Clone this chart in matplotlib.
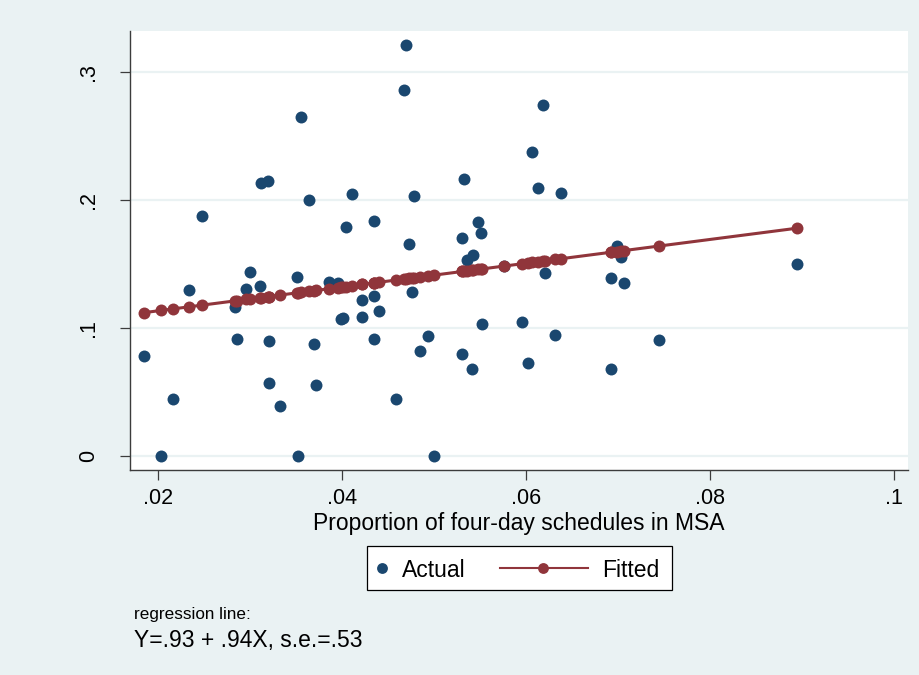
import matplotlib
matplotlib.use("Agg")
import matplotlib.pyplot as plt
from matplotlib.lines import Line2D
from matplotlib.patches import Rectangle
import numpy as np

# ---------------- data ----------------
x_actual = [0.01844, 0.02029, 0.02157, 0.02334, 0.02475, 0.02838, 0.02853, 0.02951,
            0.02994, 0.03110, 0.03117, 0.03190, 0.03201, 0.03201, 0.03324, 0.03506,
            0.03523, 0.03552, 0.03640, 0.03694, 0.03712, 0.03862, 0.03958, 0.03984,
            0.04013, 0.04039, 0.04104, 0.04219, 0.04219, 0.04343, 0.04350, 0.04350,
            0.04404, 0.04586, 0.04670, 0.04691, 0.04724, 0.04763, 0.04779, 0.04844,
            0.04931, 0.05003, 0.05307, 0.05307, 0.05326, 0.05355, 0.05427, 0.05416,
            0.05475, 0.05514, 0.05525, 0.05761, 0.05957, 0.06022, 0.06069, 0.06131,
            0.06185, 0.06204, 0.06319, 0.06384, 0.06925, 0.06925, 0.06987, 0.07034,
            0.07063, 0.07447, 0.08945]
y_actual = [0.0781, 0.0000, 0.0443, 0.1294, 0.1871, 0.1166, 0.0911, 0.1301,
            0.1434, 0.1329, 0.2129, 0.2147, 0.0900, 0.0570, 0.0393, 0.1400,
            0.0000, 0.2649, 0.1998, 0.0877, 0.0557, 0.1361, 0.1353, 0.1067,
            0.1075, 0.1785, 0.2048, 0.1218, 0.1083, 0.1832, 0.1251, 0.0913,
            0.1132, 0.0443, 0.2857, 0.3206, 0.1653, 0.1278, 0.2030, 0.0820,
            0.0937, 0.0000, 0.1699, 0.0799, 0.2160, 0.1530, 0.1567, 0.0682,
            0.1827, 0.1743, 0.1030, 0.1480, 0.1048, 0.0728, 0.2375, 0.2094,
            0.2742, 0.1431, 0.0947, 0.2055, 0.1392, 0.0677, 0.1639, 0.1556,
            0.1353, 0.0903, 0.1501]

# regression line (intercept, slope)
fit_intercept = 0.0948
fit_slope = 0.928

x_ticks = [0.02, 0.04, 0.06, 0.08, 0.10]
x_ticklabels = [".02", ".04", ".06", ".08", ".1"]
y_ticks = [0.0, 0.1, 0.2, 0.3]
y_ticklabels = ["0", ".1", ".2", ".3"]

x_title = "Proportion of four-day schedules in MSA"
legend_labels = ["Actual", "Fitted"]
note_line1 = "regression line:"
note_line2 = "Y=.93 + .94X, s.e.=.53"

# ---------------- style ----------------
BG = "#eaf2f3"
NAVY = "#1a476f"
MAROON = "#90353b"
AXC = "#3c3c3c"
FONT = "Liberation Sans"

W, H = 919, 675
fig = plt.figure(figsize=(W / 100, H / 100), dpi=100)
fig.patch.set_facecolor(BG)

L, R, T, B = 130, 908, 31, 470
ax = fig.add_axes([L / W, 1 - B / H, (R - L) / W, (B - T) / H])
ax.set_facecolor("white")

xa = np.array(x_actual)
ya = np.array(y_actual)
order = np.argsort(xa)
xf = xa[order]
yf = fit_intercept + fit_slope * xf

ax.grid(axis="y", color=BG, lw=1.6, zorder=0)
ax.set_axisbelow(True)

ms = 8.6
ax.plot(xa, ya, linestyle="none", marker="o", ms=ms, color=NAVY,
        markeredgewidth=0, zorder=3)
ax.plot(xf, yf, linestyle="-", lw=2.2, marker="o", ms=ms, color=MAROON,
        markeredgewidth=0, zorder=4)

ax.set_xlim(0.01692, 0.10156)
ax.set_ylim(-0.01093, 0.3318)

ax.set_xticks(x_ticks)
ax.set_xticklabels(x_ticklabels, fontfamily=FONT, fontsize=15.5)
ax.set_yticks(y_ticks)
ax.set_yticklabels(y_ticklabels, fontfamily=FONT, fontsize=15.5, rotation=90,
                   va="center")

ax.tick_params(axis="x", length=7.2, width=0.9, color=AXC, pad=6, labelcolor="black")
ax.tick_params(axis="y", length=7.2, width=0.9, color=AXC, pad=15, labelcolor="black")

for s in ["top", "right"]:
    ax.spines[s].set_visible(False)
for s in ["left", "bottom"]:
    ax.spines[s].set_color(AXC)
    ax.spines[s].set_linewidth(1.0)

ax.set_xlabel(x_title, fontfamily=FONT, fontsize=16.5)
ax.xaxis.label.set_va("baseline")
ax.xaxis.set_label_coords(0.5, (B - 530) / (B - T))

# ---------------- legend (manual, Stata style) ----------------
def fx(px):
    return px / W

def fy(py):
    return 1 - py / H

lx0, lx1, ly0, ly1 = 366.7, 671.7, 545.7, 590.0
fig.add_artist(Rectangle((fx(lx0), fy(ly1)), fx(lx1) - fx(lx0), fy(ly0) - fy(ly1),
                         transform=fig.transFigure, facecolor="white",
                         edgecolor="black", lw=0.9))
ymid = fy(568.0)
fig.add_artist(Line2D([fx(381.7)], [ymid], transform=fig.transFigure,
                      marker="o", ms=7.8, color=NAVY, markeredgewidth=0,
                      linestyle="none"))
fig.text(fx(401.5), ymid, legend_labels[0], fontfamily=FONT, fontsize=16.5,
         ha="left", va="center_baseline")
fig.add_artist(Line2D([fx(500), fx(588)], [ymid, ymid], transform=fig.transFigure,
                      color=MAROON, lw=1.5))
fig.add_artist(Line2D([fx(542.7)], [ymid], transform=fig.transFigure,
                      marker="o", ms=7.8, color=MAROON, markeredgewidth=0,
                      linestyle="none"))
fig.text(fx(602), ymid, legend_labels[1], fontfamily=FONT, fontsize=16.5,
         ha="left", va="center_baseline")

# ---------------- notes ----------------
fig.text(fx(134), fy(618.5), note_line1, fontfamily=FONT, fontsize=12.3,
         ha="left", va="baseline")
fig.text(fx(134), fy(647.5), note_line2, fontfamily=FONT, fontsize=16.5,
         ha="left", va="baseline")

fig.savefig("out.png", dpi=100, facecolor=BG)
